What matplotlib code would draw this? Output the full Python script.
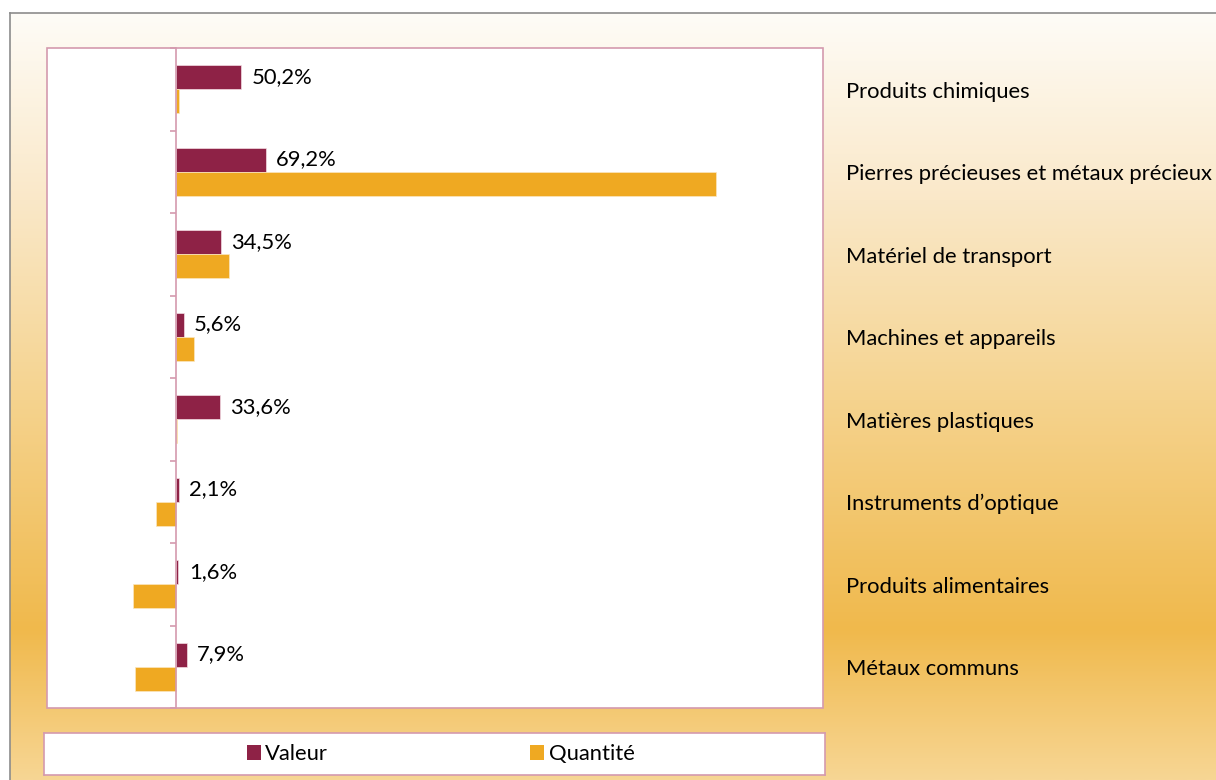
import numpy as np
import matplotlib.pyplot as plt
from matplotlib.patches import Patch, Rectangle
from matplotlib.lines import Line2D
import matplotlib.transforms as mtransforms

# ====== Données ======
categories = ["Produits chimiques", "Pierres précieuses et métaux précieux",
              "Matériel de transport", "Machines et appareils", "Matières plastiques",
              "Instruments d\u2019optique", "Produits alimentaires", "Métaux communs"]
valeur = [50.2, 69.2, 34.5, 5.6, 33.6, 2.1, 1.6, 7.9]
quantite = [2.3, 417.0, 40.7, 13.5, 0.5, -15.9, -33.2, -31.9]
series_names = ["Valeur", "Quantité"]

col_val = "#8E2246"
col_qte = "#EFA922"
col_pink = "#D49AAE"

plt.rcParams['font.family'] = ['Lato', 'DejaVu Sans']
fs = 15.8

W, H = 1216, 780
fig = plt.figure(figsize=(W / 100, H / 100), dpi=100, facecolor="white")

# ====== Fond en dégradé ======
x0, y0 = 10, 13
bg = fig.add_axes([x0 / W, 0, 1 - x0 / W, 1 - y0 / H], zorder=-5)
ys = np.linspace(y0, H, 400)
stops_y = [13, 200, 400, 630, 780]
stops_c = np.array([[254, 252, 247], [250, 232, 200], [245, 211, 142],
                    [240, 185, 76], [247, 214, 148]]) / 255.0
grad = np.stack([np.interp(ys, stops_y, stops_c[:, k]) for k in range(3)], axis=-1)
bg.imshow(grad[:, None, :], aspect="auto", extent=[0, 1, 0, 1], interpolation="bilinear")
bg.set_axis_off()
fig.add_artist(Line2D([x0 / W, x0 / W], [0, 1 - y0 / H], color="#8C8C8C", lw=1.2))
fig.add_artist(Line2D([x0 / W, 1], [1 - y0 / H, 1 - y0 / H], color="#8C8C8C", lw=1.2))

# ====== Zone de tracé ======
ax = fig.add_axes([47 / W, 1 - 708 / H, 776 / W, 660 / H], zorder=1)
ax.set_facecolor("white")
pos = np.arange(len(categories))
h = 0.29
ax.barh(pos - 0.145, valeur, height=h, color=col_val, edgecolor="#F3DDE4", linewidth=0.5)
ax.barh(pos + 0.145, quantite, height=h, color=col_qte, edgecolor="#FBE6C0", linewidth=0.5)

ax.set_xlim(-100, 500)
ax.set_ylim(len(categories) - 0.5, -0.5)

for s in ["top", "right", "bottom"]:
    ax.spines[s].set_visible(False)
ax.spines["left"].set_position(("data", 0))
ax.spines["left"].set_color(col_pink)
ax.spines["left"].set_linewidth(1.2)
ax.set_xticks([])
ax.set_yticks(np.arange(-0.5, len(categories), 1.0))
ax.set_yticklabels([])
ax.tick_params(axis="y", direction="out", length=4.5, color=col_pink, width=1.2)
ax.add_patch(Rectangle((0, 0), 1, 1, transform=ax.transAxes, fill=False,
                       edgecolor=col_pink, lw=1.2, clip_on=False, zorder=5))

for i, v in enumerate(valeur):
    ax.annotate(f"{v:.1f}".replace(".", ",") + "%", xy=(v, i - 0.15),
                xytext=(7.5, 0), textcoords="offset points",
                ha="left", va="center", fontsize=fs, color="black")

trans = mtransforms.blended_transform_factory(ax.transAxes, ax.transData)
for i, c in enumerate(categories):
    ax.text(1.0296, i + 0.03, c, transform=trans, ha="left", va="center",
            fontsize=fs, color="black", clip_on=False)

# ====== Légende ======
lax = fig.add_axes([44 / W, 1 - 775 / H, 781 / W, 42 / H], zorder=1)
lax.set_facecolor("white")
lax.set_xticks([])
lax.set_yticks([])
for s in lax.spines.values():
    s.set_color(col_pink)
    s.set_linewidth(1.2)
handles = [Patch(facecolor=col_val), Patch(facecolor=col_qte)]
lax.legend(handles, series_names, loc="center", ncol=2, frameon=False,
           fontsize=fs, handlelength=0.65, handleheight=0.65, handletextpad=0.2,
           columnspacing=9.2, bbox_to_anchor=(0.508, 0.5), borderpad=0)

fig.savefig("out.png", dpi=100, facecolor=fig.get_facecolor())
